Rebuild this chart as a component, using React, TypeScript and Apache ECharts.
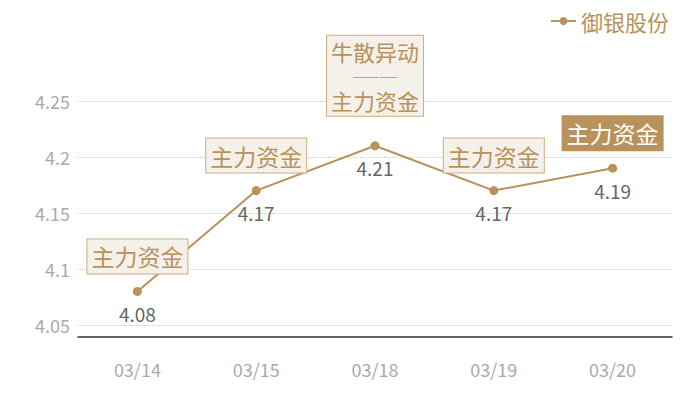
import React, { useEffect, useRef } from 'react';
import * as echarts from 'echarts';

const categories = ['03/14', '03/15', '03/18', '03/19', '03/20'];
const prices = [4.08, 4.17, 4.21, 4.17, 4.19];
const notes = ['主力资金', '主力资金', '{t|牛散异动}\n{d|—————}\n{t|主力资金}', '主力资金', '主力资金'];
const seriesName = '御银股份';

const GOLD = '#b8925a';
const FONT = '"Noto Sans CJK SC", "Noto Sans", sans-serif';

export default function App() {
  const chartRef = useRef<HTMLDivElement>(null);

  useEffect(() => {
    document.body.style.margin = '0';
    const chart = echarts.init(chartRef.current!, null, { renderer: 'svg' });

    // annotation boxes above each point, last one highlighted
    const markData = notes.map((note, i) => {
      const last = i === notes.length - 1;
      const multi = note.includes('\n');
      return {
        coord: [i, prices[i]],
        label: {
          show: true,
          formatter: note,
          position: 'inside',
          offset: [0, multi ? -70 : -35],
          color: last ? '#fff' : GOLD,
          backgroundColor: last ? GOLD : '#f4f0ea',
          borderColor: last ? GOLD : '#cdae80',
          borderWidth: 1,
          fontSize: 23,
          lineHeight: 30,
          padding: multi ? [1, 4] : [2, 4],
          fontFamily: FONT,
          rich: {
            t: { fontSize: 22, lineHeight: 29, color: GOLD, fontFamily: FONT },
            d: { fontSize: 11, lineHeight: 20, color: GOLD, fontFamily: FONT },
          },
        },
      };
    });

    chart.setOption({
      animation: false,
      textStyle: { fontFamily: FONT },
      legend: {
        right: 26,
        top: 5,
        itemWidth: 25,
        itemHeight: 10,
        textStyle: { color: GOLD, fontSize: 22, fontFamily: FONT },
        data: [seriesName],
      },
      grid: { left: 78, right: 28, top: 101, bottom: 75 },
      xAxis: {
        type: 'category',
        data: categories,
        offset: 12,
        axisLine: { lineStyle: { color: '#333', width: 1.5 } },
        axisTick: { show: false },
        axisLabel: { color: '#aaa', fontSize: 18, margin: 23, fontFamily: FONT },
      },
      yAxis: {
        type: 'value',
        min: 4.05,
        max: 4.25,
        interval: 0.05,
        axisLine: { show: false },
        axisTick: { show: false },
        axisLabel: { color: '#aaa', fontSize: 18, margin: 8, fontFamily: FONT },
        splitLine: { lineStyle: { type: 'dotted', color: '#c8c8c8' } },
      },
      series: [
        {
          name: seriesName,
          type: 'line',
          data: prices,
          symbol: 'circle',
          symbolSize: 9,
          itemStyle: { color: GOLD },
          lineStyle: { color: GOLD, width: 2 },
          label: {
            show: true,
            position: 'bottom',
            distance: 8,
            color: '#666',
            fontSize: 19,
            fontFamily: FONT,
          },
          markPoint: {
            symbol: 'rect',
            symbolSize: 0,
            data: markData,
          },
        },
      ],
    });

    return () => {
      chart.dispose();
    };
  }, []);

  return <div ref={chartRef} style={{ width: '700px', height: '400px' }} />;
}
